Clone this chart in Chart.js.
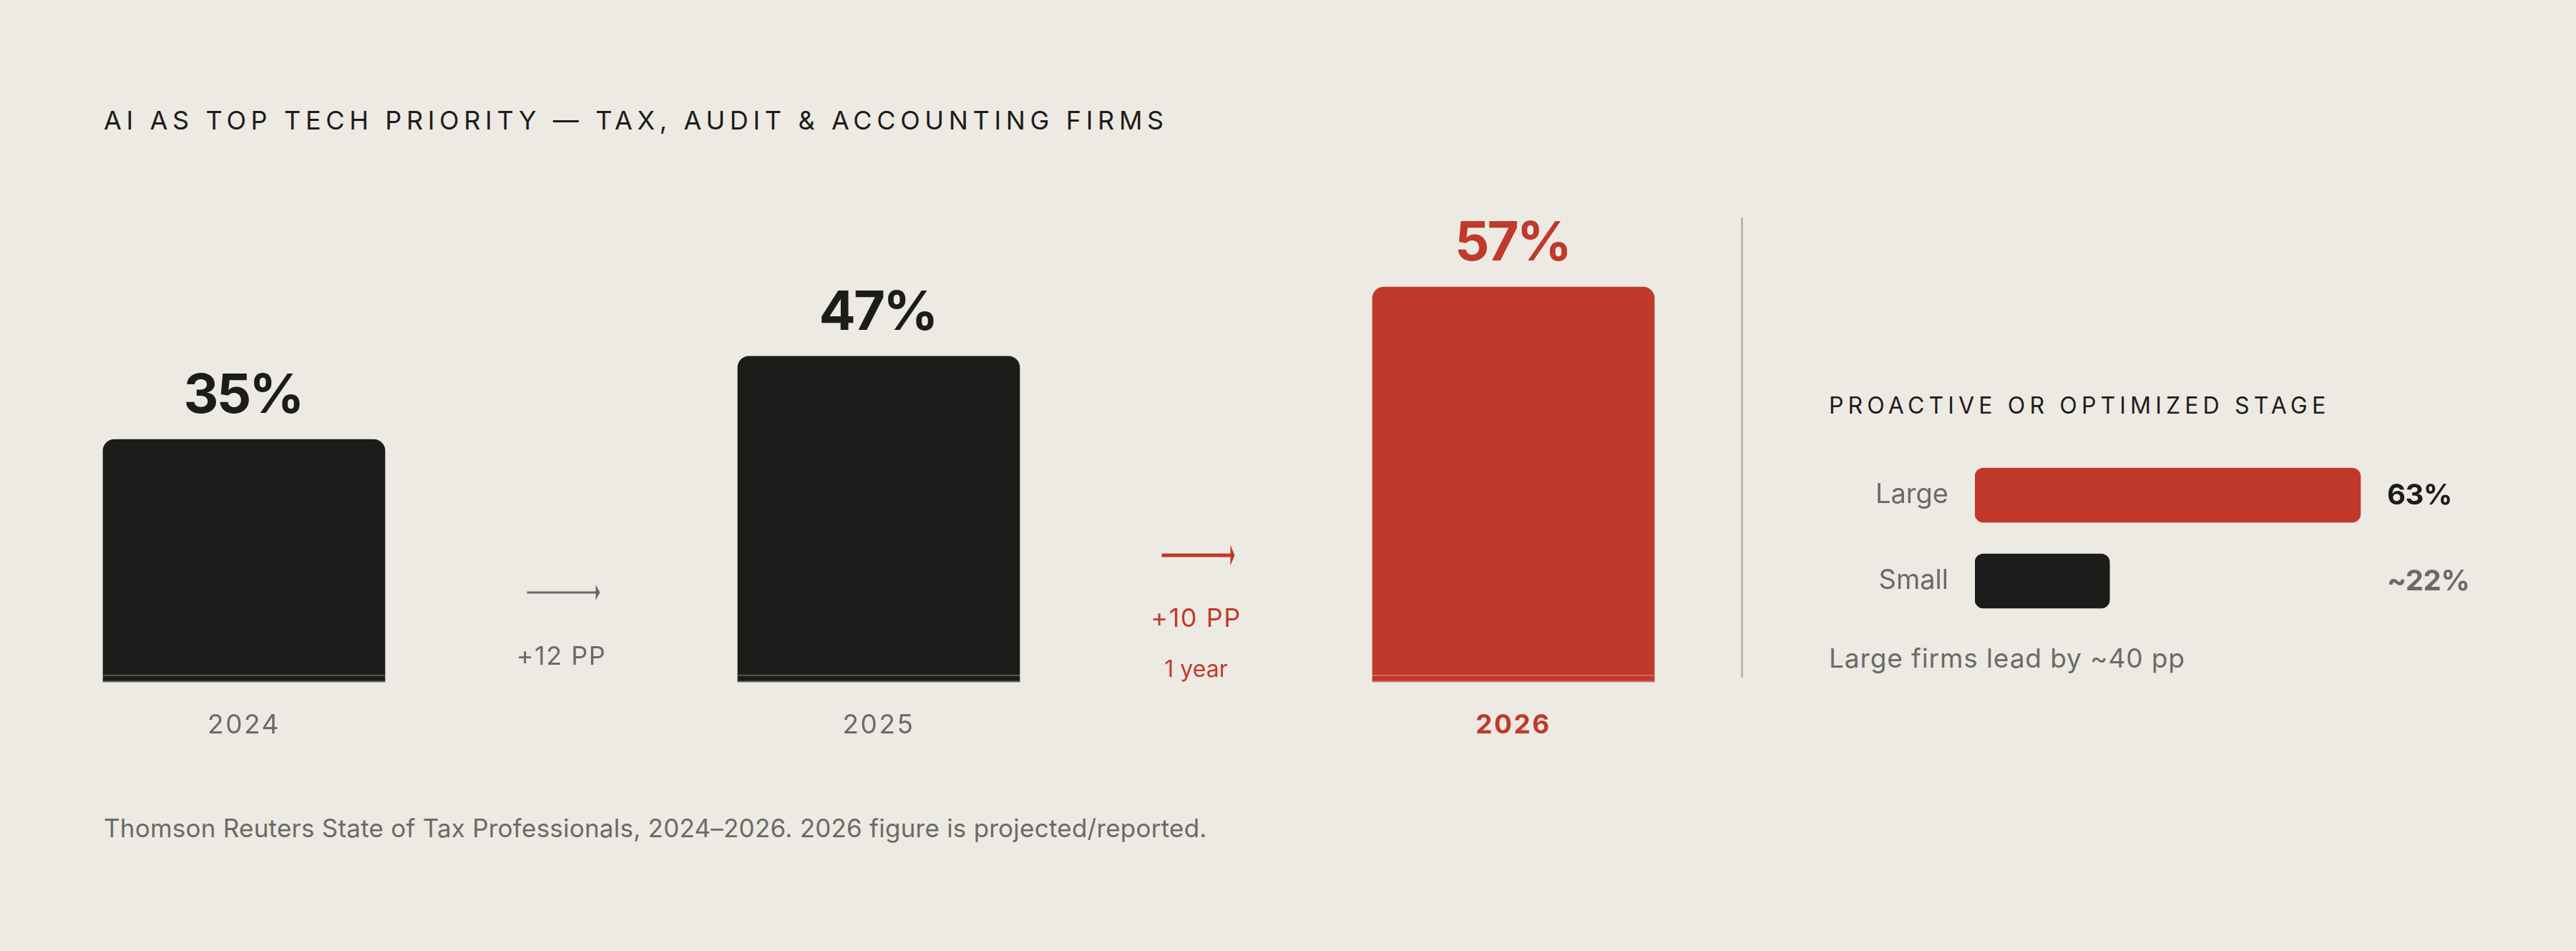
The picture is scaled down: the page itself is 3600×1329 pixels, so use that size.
<!DOCTYPE html>
<html><head><meta charset="utf-8">
<script src="https://cdn.jsdelivr.net/npm/chart.js@4.4.1/dist/chart.umd.min.js"></script>
<style>
html,body{margin:0;padding:0;background:#edeae3;}
body{width:3600px;height:1329px;position:relative;overflow:hidden;font-family:Inter,'DejaVu Sans',sans-serif;}
.t{position:absolute;white-space:nowrap;line-height:1;}
#title{left:145px;top:150px;font-size:36px;letter-spacing:6.65px;color:#1c1c1a;}
#sub{left:2556px;top:551px;font-size:32px;letter-spacing:6.15px;color:#1c1c1a;}
#note{left:2556px;top:901px;font-size:37px;letter-spacing:0.9px;color:#6b6a66;}
#foot{left:145px;top:1140px;font-size:35px;letter-spacing:0.23px;color:#6b6a66;}
#divider{position:absolute;left:2433px;top:304px;width:3px;height:643px;background:#b9b6af;}
canvas{position:absolute;top:0;}
#c1{left:0;}
#c2{left:2450px;}
</style></head>
<body>
<div class="t" id="title">AI AS TOP TECH PRIORITY — TAX, AUDIT &amp; ACCOUNTING FIRMS</div>
<div id="divider"></div>
<div class="t" id="sub">PROACTIVE OR OPTIMIZED STAGE</div>
<div class="t" id="note">Large firms lead by ~40 pp</div>
<div class="t" id="foot">Thomson Reuters State of Tax Professionals, 2024–2026. 2026 figure is projected/reported.</div>
<canvas id="c1" width="2434" height="1329"></canvas>
<canvas id="c2" width="1150" height="1329"></canvas>
<script>
// ---- data ----
const years = ['2024', '2025', '2026'];
const priorityPct = [35, 47, 57];
const changeLabels = ['+12 PP', '+10 PP'];
const changeNotes = ['', '1 year'];
const firmSizes = ['Large', 'Small'];
const stagePct = [63, 22];
const stageValueLabels = ['63%', '~22%'];

// ---- style ----
const DARK = '#1c1c1a';
const RED = '#c0392b';
const GRAY = '#6b6a66';
const FONT = 'Inter';
const HIGHLIGHT = 2;

const tickSpacing = {
  id: 'tickSpacing',
  beforeDraw(chart) { chart.ctx.letterSpacing = '2.5px'; },
  beforeDatasetsDraw(chart) { chart.ctx.letterSpacing = '0px'; }
};

const mainDecor = {
  id: 'mainDecor',
  afterDatasetsDraw(chart) {
    const ctx = chart.ctx;
    const meta = chart.getDatasetMeta(0);
    const xs = chart.scales.x;
    const base = chart.chartArea.bottom;
    meta.data.forEach((bar, i) => {
      const p = bar.getProps(['x', 'y', 'width', 'base'], true);
      const l = p.x - p.width / 2;
      ctx.save();
      ctx.fillStyle = 'rgba(255,255,255,0.32)';
      ctx.fillRect(l, p.base - 10, p.width, 1.5);
      ctx.fillRect(l, p.base - 1.5, p.width, 1.5);
      ctx.fillStyle = i === HIGHLIGHT ? RED : DARK;
      ctx.font = `700 76px ${FONT}`;
      ctx.letterSpacing = '-3px';
      ctx.textAlign = 'center';
      ctx.textBaseline = 'alphabetic';
      ctx.fillText(priorityPct[i] + '%', p.x - 1.5, p.y - 37);
      ctx.restore();
    });
    changeLabels.forEach((lab, i) => {
      const mx = (xs.getPixelForValue(i) + xs.getPixelForValue(i + 1)) / 2;
      const last = i === changeLabels.length - 1;
      const col = last ? RED : GRAY;
      const ay = last ? base - 177 : base - 125;
      const th = last ? 5 : 3;
      const hh = last ? 14.5 : 11;
      const x0 = mx - 48, x1 = mx + 54;
      ctx.save();
      ctx.fillStyle = col;
      ctx.fillRect(x0, ay - th / 2, x1 - x0 - 4, th);
      ctx.beginPath();
      ctx.moveTo(x1 - 6, ay - hh);
      ctx.lineTo(x1, ay);
      ctx.lineTo(x1 - 6, ay + hh);
      ctx.closePath();
      ctx.fill();
      ctx.textAlign = 'center';
      ctx.textBaseline = 'alphabetic';
      ctx.font = `400 36px ${FONT}`;
      ctx.letterSpacing = '1.5px';
      ctx.fillText(lab, mx, last ? base - 77 : base - 24);
      if (changeNotes[i]) {
        ctx.font = `400 32px ${FONT}`;
        ctx.letterSpacing = '0px';
        ctx.fillText(changeNotes[i], mx, base - 7);
      }
      ctx.restore();
    });
  }
};

new Chart(document.getElementById('c1'), {
  type: 'bar',
  data: {
    labels: years,
    datasets: [{
      data: priorityPct,
      backgroundColor: years.map((y, i) => i === HIGHLIGHT ? RED : DARK),
      borderRadius: {topLeft: 16, topRight: 16, bottomLeft: 0, bottomRight: 0},
      borderSkipped: 'bottom',
      barThickness: 394,
      clip: false
    }]
  },
  options: {
    responsive: false,
    animation: false,
    devicePixelRatio: 1,
    layout: {padding: {left: 341, right: 319, top: 372, bottom: 256}},
    plugins: {legend: {display: false}, tooltip: {enabled: false}},
    scales: {
      x: {
        offset: false,
        grid: {display: false, drawTicks: false},
        border: {display: false},
        ticks: {
          padding: 39,
          color: c => c.index === HIGHLIGHT ? RED : GRAY,
          font: c => ({family: FONT, size: 37, weight: c.index === HIGHLIGHT ? '700' : '400'})
        },
        afterFit: s => { s.height = 120; }
      },
      y: {display: false, min: 0, max: 60}
    }
  },
  plugins: [tickSpacing, mainDecor]
});

const sideDecor = {
  id: 'sideDecor',
  afterDatasetsDraw(chart) {
    const ctx = chart.ctx;
    const meta = chart.getDatasetMeta(0);
    const right = chart.chartArea.right;
    meta.data.forEach((bar, i) => {
      ctx.save();
      ctx.fillStyle = i === 0 ? DARK : GRAY;
      ctx.font = `700 40px ${FONT}`;
      ctx.letterSpacing = '-0.5px';
      ctx.textAlign = 'left';
      ctx.textBaseline = 'middle';
      ctx.fillText(stageValueLabels[i], right + 20, bar.y + 1);
      ctx.restore();
    });
  }
};

new Chart(document.getElementById('c2'), {
  type: 'bar',
  data: {
    labels: firmSizes,
    datasets: [{
      data: stagePct,
      backgroundColor: [RED, DARK],
      borderRadius: 12,
      borderSkipped: false,
      barThickness: 76
    }]
  },
  options: {
    indexAxis: 'y',
    responsive: false,
    animation: false,
    devicePixelRatio: 1,
    layout: {padding: {left: 0, right: 284, top: 632, bottom: 457}},
    plugins: {legend: {display: false}, tooltip: {enabled: false}},
    scales: {
      x: {display: false, min: 0, max: 65},
      y: {
        grid: {display: false, drawTicks: false},
        border: {display: false},
        ticks: {padding: 37, color: GRAY, font: {family: FONT, size: 38}},
        afterFit: s => { s.width = 310; }
      }
    }
  },
  plugins: [sideDecor]
});
</script>
</body></html>
